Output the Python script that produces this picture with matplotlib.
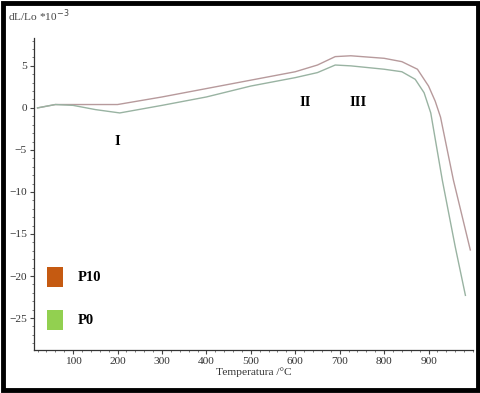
import matplotlib
matplotlib.use("Agg")
import matplotlib.pyplot as plt
from matplotlib.patches import Rectangle
from matplotlib.ticker import MultipleLocator

# dilatometry curves
temp_p10 = [20, 60, 100, 200, 300, 400, 500, 600, 650, 690, 725, 800, 840, 875, 900, 915, 927, 956, 994]
dl_p10 = [0.0, 0.4, 0.4, 0.4, 1.3, 2.3, 3.3, 4.3, 5.1, 6.1, 6.2, 5.9, 5.5, 4.6, 2.6, 0.8, -1.1, -8.6, -16.9]

temp_p0 = [20, 60, 100, 150, 205, 300, 400, 500, 600, 650, 690, 725, 800, 840, 870, 890, 905, 931, 960, 983]
dl_p0 = [0.0, 0.4, 0.3, -0.2, -0.6, 0.3, 1.3, 2.6, 3.6, 4.2, 5.1, 5.0, 4.6, 4.3, 3.4, 1.8, -0.6, -8.6, -16.5, -22.3]

x_ticks = [100, 200, 300, 400, 500, 600, 700, 800, 900]
y_ticks = [5, 0, -5, -10, -15, -20, -25]
stage_labels = ["I", "II", "III"]
stage_pos = [(200, -4.0), (622, 0.6), (742, 0.6)]
series_names = ["P10", "P0"]
legend_colors = ["#c55a11", "#92d050"]

serif = "Liberation Serif"

fig = plt.figure(figsize=(4.81, 3.93), dpi=100)
ax = fig.add_axes([0.0707, 0.1094, 0.9126, 0.7936])

ax.plot(temp_p10, dl_p10, color="#b79a9c", lw=1.0)
ax.plot(temp_p0, dl_p0, color="#99b3a2", lw=1.0)

ax.set_xlim(12, 1000)
ax.set_ylim(-28.8, 8.3)
ax.set_xticks(x_ticks)
ax.set_yticks(y_ticks)
ax.xaxis.set_minor_locator(MultipleLocator(20))
ax.yaxis.set_minor_locator(MultipleLocator(1))
for s in ["top", "right"]:
    ax.spines[s].set_visible(False)
for s in ["left", "bottom"]:
    ax.spines[s].set_color("#333333")
    ax.spines[s].set_linewidth(0.9)
ax.tick_params(which="major", length=3, width=0.8, color="#444444", labelsize=8.2, pad=2)
ax.tick_params(which="minor", length=1.5, width=0.6, color="#666666")
for lab in ax.get_xticklabels() + ax.get_yticklabels():
    lab.set_fontfamily(serif)
    lab.set_color("#333333")

ax.set_xlabel("Temperatura /°C", fontfamily=serif, fontsize=8.2, color="#333333", labelpad=1)
fig.text(0.017, 0.96, "dL/Lo *10$^{-3}$", fontfamily=serif, fontsize=8.2, color="#444444",
         va="center", ha="left")

for lab, (tx, ty) in zip(stage_labels, stage_pos):
    ax.text(tx, ty, lab, fontfamily=serif, fontweight="bold", fontsize=10.5,
            ha="center", va="center", color="black")

# legend boxes
legend_y = [0.234, 0.096]
for name, col, yy in zip(series_names, legend_colors, legend_y):
    ax.add_patch(Rectangle((0.030, yy - 0.031), 0.036, 0.062, transform=ax.transAxes,
                           facecolor=col, edgecolor="none"))
    ax.text(0.100, yy, name, transform=ax.transAxes, fontfamily=serif,
            fontweight="bold", fontsize=10.5, va="center", ha="left")

# black frame around the picture
fig.patches.append(Rectangle((0.006, 0.008), 0.988, 0.984, transform=fig.transFigure,
                             fill=False, edgecolor="black", linewidth=3.5))

fig.savefig("out.png", dpi=100)
